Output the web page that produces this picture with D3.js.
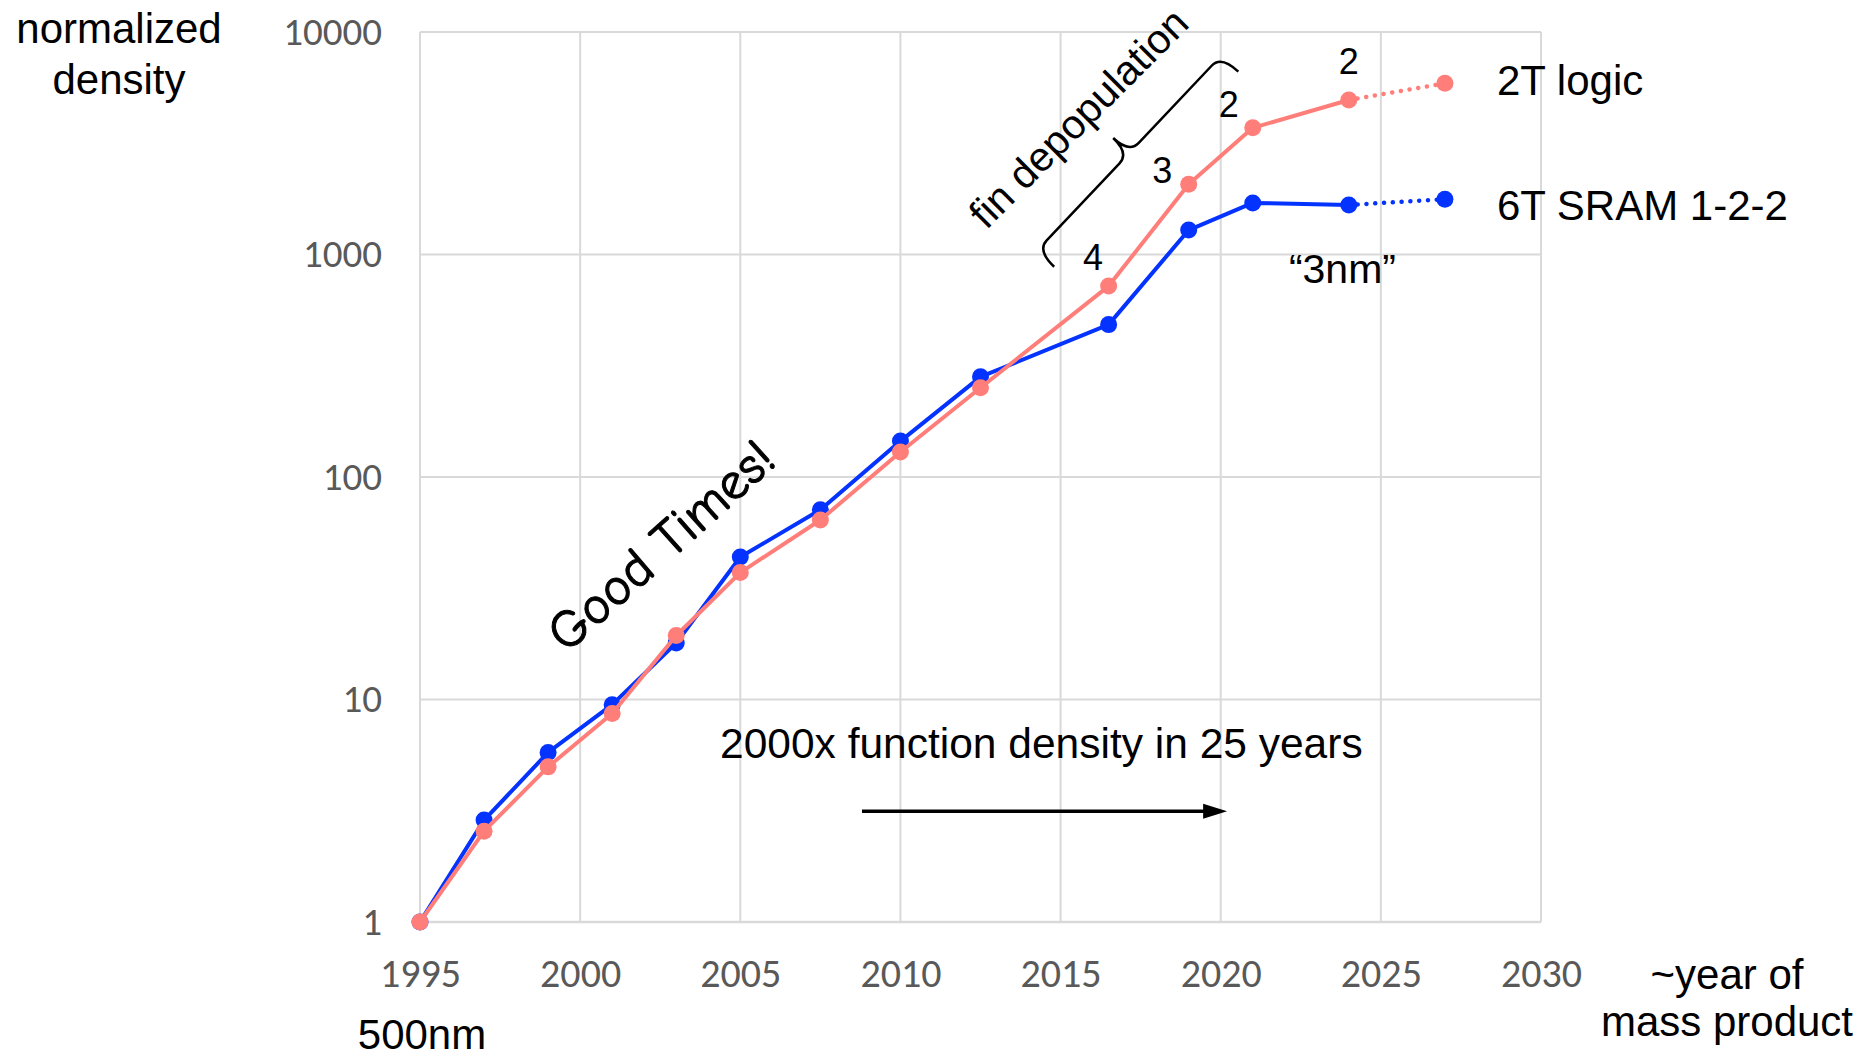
<!DOCTYPE html>
<html>
<head>
<meta charset="utf-8">
<script src="https://cdn.jsdelivr.net/npm/d3@7"></script>
<style>
  body { margin: 0; background: #fff; overflow: hidden; }
</style>
</head>
<body>
<div id="chart"></div>
<script>

// values (normalized to 1995 = 1)
var years   = [1995, 1997, 1999, 2001, 2003, 2005, 2007.5, 2010, 2012.5, 2016.5, 2019, 2021, 2024, 2027];
var logic2T = [1, 2.56, 4.98, 8.65, 19.4, 37.2, 64.1, 129.6, 252, 721, 2070, 3710, 4948, 5880];
var sram6T  = [1, 2.87, 5.78, 9.48, 17.95, 43.7, 71.2, 145, 282, 484, 1288, 1705, 1670, 1773];

// ticks
var xTicks = [1995, 2000, 2005, 2010, 2015, 2020, 2025, 2030];
var yTicks = [1, 10, 100, 1000, 10000];

// fins per transistor, labelled on the logic line
var finYears  = [2016.5, 2019, 2021, 2024];
var finCounts = ["4", "3", "2", "2"];

// set the dimensions and margins of the graph
var margin = {top: 32, right: 329, bottom: 136, left: 420},
    width = 1870 - margin.left - margin.right,
    height = 1058 - margin.top - margin.bottom;

var root = d3.select("#chart")
  .append("svg")
    .attr("width", 1870)
    .attr("height", 1058);

var svg = root.append("g")
    .attr("transform", "translate(" + margin.left + "," + margin.top + ")");

var x = d3.scaleLinear()
  .domain([1995, 2030])
  .range([0, width]);

var y = d3.scaleLog()
  .domain([1, 10000])
  .range([height, 0]);

var arial = "'Liberation Sans', Arial, sans-serif";
var tickFont = "Calibri, Carlito, Lato, sans-serif";

// grid lines
svg.append("g").selectAll("line")
  .data(yTicks)
  .enter().append("line")
    .attr("x1", 0).attr("x2", width)
    .attr("y1", function(d) { return y(d); })
    .attr("y2", function(d) { return y(d); })
    .attr("stroke", "#d9d9d9")
    .attr("stroke-width", function(d) { return d === 1 ? 2.5 : 2; });

svg.append("g").selectAll("line")
  .data(xTicks)
  .enter().append("line")
    .attr("x1", function(d) { return x(d); })
    .attr("x2", function(d) { return x(d); })
    .attr("y1", 0).attr("y2", height)
    .attr("stroke", "#d9d9d9")
    .attr("stroke-width", 2);

// axes (labels only)
var yAxis = svg.append("g")
  .call(d3.axisLeft(y).tickValues(yTicks).tickFormat(d3.format("d")).tickSize(0).tickPadding(38));
yAxis.select(".domain").remove();
yAxis.selectAll("text")
  .style("font-family", tickFont)
  .style("font-size", "39px")
  .attr("fill", "#595959");

var xAxis = svg.append("g")
  .attr("transform", "translate(0," + height + ")")
  .call(d3.axisBottom(x).tickValues(xTicks).tickFormat(d3.format("d")).tickSize(0).tickPadding(37));
xAxis.select(".domain").remove();
xAxis.selectAll("text")
  .style("font-family", tickFont)
  .style("font-size", "40px")
  .attr("fill", "#595959");

// the two series
var line = d3.line()
  .x(function(d) { return x(d.year); })
  .y(function(d) { return y(d.v); });

var series = [
  {name: "6T SRAM 1-2-2", values: sram6T, color: "#0433ff"},
  {name: "2T logic", values: logic2T, color: "#ff7e79"}
];

series.forEach(function(s) {
  var pts = years.map(function(yr, i) { return {year: yr, v: s.values[i]}; });
  var last = pts.length - 1;

  // measured part
  svg.append("path")
    .datum(pts.slice(0, last))
    .attr("fill", "none")
    .attr("stroke", s.color)
    .attr("stroke-width", 4)
    .attr("stroke-linejoin", "round")
    .attr("d", line);

  // projected part, dotted
  svg.append("path")
    .datum(pts.slice(last - 1))
    .attr("fill", "none")
    .attr("stroke", s.color)
    .attr("stroke-width", 4.5)
    .attr("stroke-linecap", "round")
    .attr("stroke-dasharray", "0.1 8.7")
    .attr("d", line);

  svg.append("g").selectAll("circle")
    .data(pts)
    .enter().append("circle")
      .attr("cx", function(d) { return x(d.year); })
      .attr("cy", function(d) { return y(d.v); })
      .attr("r", 8.5)
      .attr("fill", s.color);

  s.pts = pts;
});

// legend labels next to the last points
var legendDy = {"2T logic": 12, "6T SRAM 1-2-2": 21};
series.forEach(function(s) {
  var p = s.pts[s.pts.length - 1];
  svg.append("text")
    .attr("x", x(p.year) + 52)
    .attr("y", y(p.v) + legendDy[s.name])
    .style("font-family", arial)
    .style("font-size", "42px")
    .text(s.name);
});

// fin count labels above the logic points
var finDx = [-15.5, -26.5, -24, 0],
    finDy = [-16, -1, -11, -26];
finYears.forEach(function(yr, i) {
  var v = logic2T[years.indexOf(yr)];
  svg.append("text")
    .attr("x", x(yr) + finDx[i])
    .attr("y", y(v) + finDy[i])
    .attr("text-anchor", "middle")
    .style("font-family", arial)
    .style("font-size", "36px")
    .text(finCounts[i]);
});

// "3nm"
svg.append("text")
  .attr("x", x(2023.8))
  .attr("y", y(745))
  .attr("text-anchor", "middle")
  .style("font-family", arial)
  .style("font-size", "41px")
  .text("\u201c3nm\u201d");

// fin depopulation + brace
var fx = x(2015.6), fy = y(4050);
svg.append("text")
  .attr("transform", "translate(" + fx + "," + fy + ") rotate(-45)")
  .attr("text-anchor", "middle")
  .attr("dy", "0.3em")
  .style("font-family", arial)
  .style("font-size", "41px")
  .text("fin depopulation");

function brace(p1, p2, h, tip, r) {
  var dx = p2[0] - p1[0], dy = p2[1] - p1[1],
      L = Math.sqrt(dx * dx + dy * dy), m = L / 2,
      ang = Math.atan2(dy, dx) * 180 / Math.PI;
  var d = "M0,0 Q0," + (-h) + " " + r + "," + (-h) +
          " L" + (m - r) + "," + (-h) +
          " Q" + m + "," + (-h) + " " + m + "," + (-tip) +
          " Q" + m + "," + (-h) + " " + (m + r) + "," + (-h) +
          " L" + (L - r) + "," + (-h) +
          " Q" + L + "," + (-h) + " " + L + ",0";
  return {d: d, transform: "translate(" + p1[0] + "," + p1[1] + ") rotate(" + ang + ")"};
}
var b = brace([x(2014.8), y(881)], [x(2020.55), y(6630)], 23.5, 45.5, 14);
svg.append("path")
  .attr("d", b.d)
  .attr("transform", b.transform)
  .attr("fill", "none")
  .attr("stroke", "#000")
  .attr("stroke-width", 2.5);

// Good Times!
svg.append("text")
  .attr("transform", "translate(" + x(2002.5) + "," + y(49.5) + ") rotate(-42)")
  .attr("text-anchor", "middle")
  .attr("dy", "0.35em")
  .style("font-family", "'Comic Sans MS', 'Comic Neue', 'DejaVu Sans', sans-serif")
  .style("font-size", "53px")
  .attr("stroke", "#000")
  .attr("stroke-width", 1)
  .text("Good Times!");

// 2000x note and arrow
svg.append("text")
  .attr("x", x(2014.4))
  .attr("y", y(5.46))
  .attr("text-anchor", "middle")
  .style("font-family", arial)
  .style("font-size", "42.5px")
  .text("2000x function density in 25 years");

var ax1 = x(2008.8), ax2 = x(2020.2), ay = y(3.15);
svg.append("line")
  .attr("x1", ax1).attr("x2", ax2 - 20)
  .attr("y1", ay).attr("y2", ay)
  .attr("stroke", "#000")
  .attr("stroke-width", 3.5);
svg.append("path")
  .attr("d", "M" + ax2 + "," + ay + " L" + (ax2 - 24) + "," + (ay - 7.5) + " L" + (ax2 - 24) + "," + (ay + 7.5) + " Z")
  .attr("fill", "#000");

// axis titles
var yTitle = root.append("text")
  .attr("text-anchor", "middle")
  .style("font-family", arial)
  .style("font-size", "42px");
yTitle.append("tspan").attr("x", 119).attr("y", 43).text("normalized");
yTitle.append("tspan").attr("x", 119).attr("y", 94).text("density");

var xTitle = root.append("text")
  .attr("text-anchor", "middle")
  .style("font-family", arial)
  .style("font-size", "42px");
xTitle.append("tspan").attr("x", 1727).attr("y", 989).text("~year of");
xTitle.append("tspan").attr("x", 1727).attr("y", 1036).text("mass product");

root.append("text")
  .attr("x", margin.left + x(1995) + 2)
  .attr("y", 1049)
  .attr("text-anchor", "middle")
  .style("font-family", arial)
  .style("font-size", "42px")
  .text("500nm");

</script>
</body>
</html>
